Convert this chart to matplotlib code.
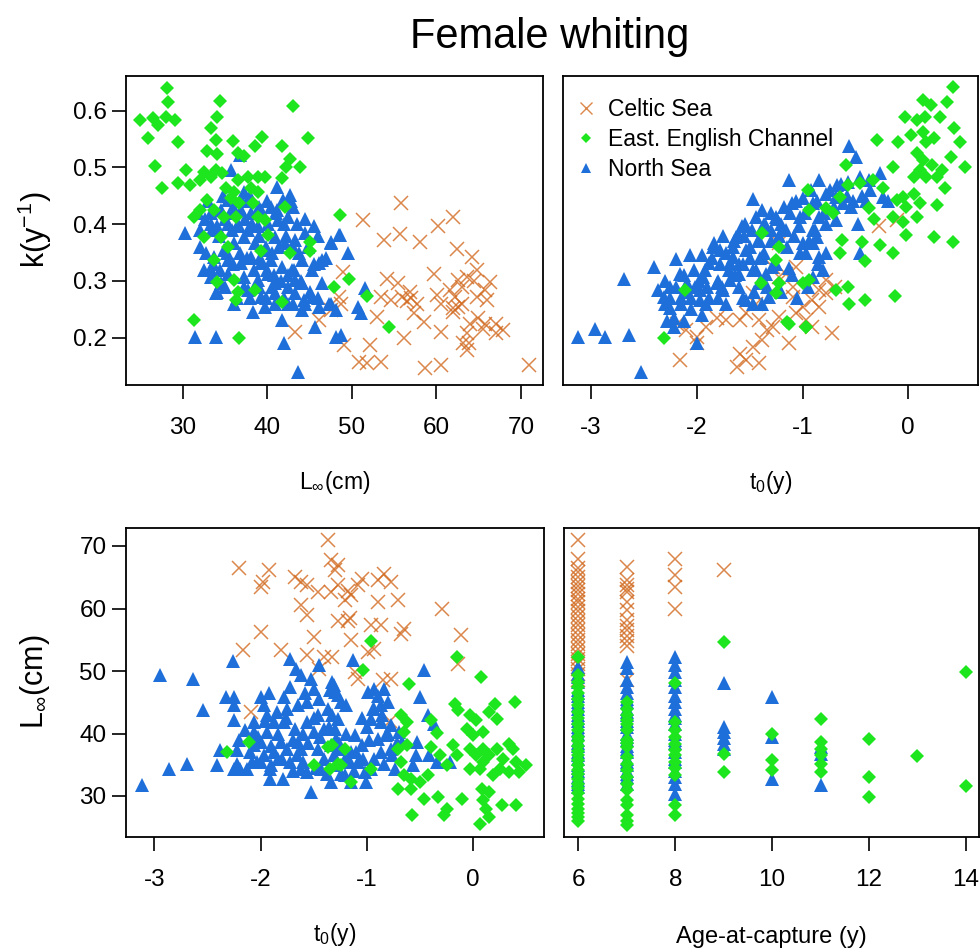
import matplotlib
matplotlib.use('Agg')
import matplotlib.pyplot as plt
from matplotlib.lines import Line2D

plt.rcParams['font.family'] = ['Liberation Sans', 'DejaVu Sans']
plt.rcParams['mathtext.fontset'] = 'custom'
plt.rcParams['mathtext.rm'] = 'Liberation Sans'
plt.rcParams['mathtext.it'] = 'Liberation Sans:italic'
plt.rcParams['mathtext.bf'] = 'Liberation Sans:bold'

# ---------------- data ----------------
series_names = ['Celtic Sea', 'East. English Channel', 'North Sea']

# Panel 1: k vs Linf
p1_cs_linf = [55.8, 51.3, 53.8, 55.7, 58.1, 60.2, 62.0, 62.4, 64.2, 64.8, 66.3, 59.7, 54.2, 55.4, 53.4,
              54.6, 55.9, 56.9, 57.7, 57.3, 58.5, 60.1, 60.5, 61.6, 62.2, 62.6, 63.0, 63.6, 62.0, 63.0,
              64.8, 65.8, 66.0, 64.9, 65.8, 67.1, 67.9, 67.1, 64.0, 63.6, 63.2, 63.6, 60.5, 56.2, 52.2,
              49.1, 50.9, 51.8, 53.4, 58.7, 60.5, 70.9, 53.0, 48.7, 48.9, 47.5, 43.3, 46.1, 48.5, 57.0,
              56.5, 62.0, 62.5, 64.5, 65.5, 63.8]
p1_cs_k = [0.438, 0.407, 0.372, 0.383, 0.369, 0.396, 0.412, 0.357, 0.343, 0.319, 0.299, 0.313, 0.304, 0.296, 0.272,
           0.266, 0.272, 0.281, 0.260, 0.243, 0.228, 0.275, 0.260, 0.284, 0.272, 0.302, 0.290, 0.307, 0.252, 0.260,
           0.272, 0.284, 0.266, 0.234, 0.225, 0.225, 0.213, 0.208, 0.225, 0.208, 0.190, 0.178, 0.210, 0.199, 0.187,
           0.187, 0.158, 0.155, 0.158, 0.146, 0.152, 0.152, 0.237, 0.260, 0.316, 0.249, 0.210, 0.231, 0.272, 0.270,
           0.265, 0.245, 0.255, 0.300, 0.215, 0.190]

p1_eec_linf = [28.1, 28.3, 34.4, 43.0, 25.0, 26.5, 27.1, 28.0, 29.1, 34.0, 25.9, 29.4, 33.3, 33.9, 36.0,
               38.5, 39.4, 41.7, 44.8, 26.7, 30.4, 27.5, 29.4, 32.9, 34.1, 36.5, 37.3, 42.7, 42.2, 43.9,
               41.7, 30.9, 32.1, 32.5, 33.3, 33.9, 34.7, 36.5, 37.7, 38.9, 39.7, 35.1, 36.1, 38.1, 38.9,
               32.9, 35.7, 36.7, 38.3, 42.1, 31.3, 32.1, 33.7, 34.9, 36.3, 38.9, 39.7, 40.1, 32.5, 34.5,
               35.3, 39.3, 45.0, 45.1, 42.7, 33.7, 34.1, 36.1, 36.5, 38.5, 36.3, 41.7, 47.9, 48.6, 31.3,
               36.7, 49.7, 51.8, 54.4]
p1_eec_k = [0.640, 0.616, 0.617, 0.608, 0.584, 0.587, 0.575, 0.589, 0.584, 0.589, 0.551, 0.545, 0.569, 0.548, 0.547,
            0.538, 0.554, 0.538, 0.551, 0.503, 0.495, 0.463, 0.473, 0.529, 0.523, 0.526, 0.520, 0.514, 0.501, 0.501,
            0.481, 0.469, 0.478, 0.492, 0.484, 0.495, 0.490, 0.478, 0.484, 0.484, 0.484, 0.463, 0.457, 0.463, 0.457,
            0.443, 0.446, 0.437, 0.437, 0.431, 0.413, 0.425, 0.425, 0.413, 0.413, 0.413, 0.407, 0.381, 0.378, 0.378,
            0.360, 0.352, 0.369, 0.352, 0.349, 0.337, 0.299, 0.302, 0.281, 0.284, 0.266, 0.263, 0.290, 0.416, 0.231,
            0.199, 0.304, 0.273, 0.219]

p1_ns_linf = [30.3, 31.4, 33.9, 43.6, 42.0, 36.8, 41.2, 42.7, 43.1, 41.1, 35.7, 37.3, 32.1, 32.5, 33.3,
              34.5, 33.9, 36.1, 38.3, 39.7, 40.9, 41.7, 45.7, 45.3, 44.3, 43.3, 42.5, 44.1, 46.5, 46.1,
              45.5, 44.5, 43.3, 42.1, 40.9, 39.7, 38.5, 37.3, 36.1, 34.9, 34.1, 33.3, 32.1, 35.3, 36.5,
              37.7, 38.9, 40.1, 41.3, 42.5, 33.3, 34.5, 35.7, 36.9, 38.1, 39.3, 40.5, 41.9, 37.7, 35.3,
              33.7, 35.3, 36.9, 38.1, 39.3, 40.5, 41.7, 42.9, 44.1, 45.3, 46.5, 47.5, 48.5, 33.3, 35.3,
              37.3, 38.9, 40.1, 40.9, 43.3, 37.7, 39.3, 40.9, 42.5, 44.1, 46.1, 47.3, 48.1, 48.6, 49.5,
              47.5, 51.5, 50.7, 51.1, 48.7, 48.1, 47.5,
              31.8, 32.6, 33.5, 34.3, 35.0, 35.8, 36.6, 37.4, 38.2, 39.0, 39.8, 40.6, 41.4, 42.2, 43.0,
              43.8, 44.8, 32.8, 33.6, 34.4, 35.2, 36.0, 36.8, 37.6, 38.4, 39.2, 40.0, 40.8, 41.6, 42.4,
              43.2, 44.0, 45.0, 46.0, 34.0, 35.0, 36.4, 37.2, 38.0, 39.0, 39.8, 40.6, 42.0, 43.0, 44.5,
              36.0, 37.0, 38.0, 39.0, 40.0, 41.0, 42.0, 43.5, 44.5, 46.0, 47.0, 45.5, 42.8, 34.8, 33.0]
p1_ns_k = [0.384, 0.202, 0.202, 0.140, 0.190, 0.522, 0.466, 0.451, 0.431, 0.425, 0.495, 0.457, 0.360, 0.319, 0.307,
           0.296, 0.278, 0.260, 0.246, 0.255, 0.260, 0.231, 0.219, 0.272, 0.266, 0.278, 0.290, 0.296, 0.296, 0.331,
           0.396, 0.384, 0.372, 0.366, 0.378, 0.354, 0.366, 0.378, 0.366, 0.354, 0.396, 0.401, 0.390, 0.401, 0.396,
           0.390, 0.396, 0.401, 0.407, 0.413, 0.419, 0.425, 0.419, 0.425, 0.419, 0.425, 0.431, 0.443, 0.440, 0.443,
           0.343, 0.337, 0.331, 0.343, 0.331, 0.337, 0.325, 0.319, 0.337, 0.319, 0.337, 0.369, 0.381, 0.319, 0.313,
           0.307, 0.301, 0.313, 0.296, 0.301, 0.284, 0.272, 0.278, 0.260, 0.249, 0.255, 0.260, 0.249, 0.381, 0.349,
           0.366, 0.287, 0.255, 0.243, 0.205, 0.202, 0.260,
           0.420, 0.410, 0.390, 0.380, 0.410, 0.390, 0.400, 0.410, 0.400, 0.380, 0.360, 0.350, 0.360, 0.380, 0.360,
           0.350, 0.360, 0.350, 0.330, 0.320, 0.350, 0.330, 0.350, 0.340, 0.320, 0.340, 0.320, 0.310, 0.300, 0.310,
           0.320, 0.300, 0.280, 0.270, 0.280, 0.290, 0.270, 0.290, 0.270, 0.290, 0.270, 0.290, 0.270, 0.260, 0.260,
           0.430, 0.440, 0.450, 0.430, 0.440, 0.420, 0.400, 0.400, 0.410, 0.380, 0.340, 0.330, 0.440, 0.450, 0.440]

# Panel 2: k vs t0
p2_cs_t0 = [-0.28, -2.16, -2.19, -2.10, -2.00, -1.91, -1.81, -1.59, -1.53, -1.44, -1.59, -1.53, -1.62, -1.41, -1.47,
            -1.38, -1.28, -1.22, -1.13, -1.09, -1.00, -0.91, -0.84, -0.78, -0.72, -0.91, -0.97, -1.06, -1.22, -1.16,
            -1.28, -1.22, -1.06, -0.78, -0.69, -0.84, -1.47, -1.72, -1.41, -1.34, -1.09, -2.00, -0.11]
p2_cs_k = [0.396, 0.161, 0.225, 0.214, 0.202, 0.219, 0.234, 0.231, 0.243, 0.260, 0.172, 0.161, 0.149, 0.155, 0.184,
           0.196, 0.219, 0.237, 0.190, 0.272, 0.255, 0.266, 0.284, 0.302, 0.208, 0.219, 0.231, 0.243, 0.307, 0.313,
           0.325, 0.366, 0.325, 0.278, 0.290, 0.255, 0.278, 0.231, 0.231, 0.214, 0.290, 0.190, 0.407]

p2_eec_t0 = [0.42, 0.14, 0.21, 0.37, -0.03, 0.08, 0.16, 0.30, 0.43, -0.30, -0.10, 0.03, 0.14, 0.17, 0.24,
             0.49, 0.40, 0.54, -0.59, -0.14, 0.08, 0.14, 0.22, 0.11, 0.05, 0.17, 0.27, 0.32, 0.35, -0.95,
             -0.57, -0.46, -0.33, -0.24, -0.11, -0.05, 0.05, 0.11, 0.27, -0.02, -0.37, -0.78, -0.65, -0.14, -0.05,
             0.08, -0.32, -0.02, 0.24, 0.42, -0.63, -0.44, -0.27, -0.14, -0.65, -0.41, -0.57, -0.41, -0.13, -0.56,
             -0.68, -0.94, -1.13, -0.97, -1.22, -1.38, -1.22, -1.00, -0.94, -0.71, -2.11, -2.31, -1.39, -1.25, -1.25,
             -1.15, -0.97]
p2_eec_k = [0.641, 0.619, 0.610, 0.616, 0.589, 0.584, 0.589, 0.589, 0.569, 0.549, 0.544, 0.557, 0.563, 0.545, 0.551,
            0.545, 0.519, 0.501, 0.504, 0.501, 0.525, 0.513, 0.504, 0.495, 0.484, 0.484, 0.484, 0.495, 0.463, 0.460,
            0.469, 0.472, 0.478, 0.463, 0.443, 0.448, 0.454, 0.437, 0.434, 0.431, 0.428, 0.428, 0.448, 0.413, 0.404,
            0.413, 0.410, 0.381, 0.378, 0.368, 0.372, 0.369, 0.363, 0.350, 0.350, 0.336, 0.290, 0.267, 0.273, 0.260,
            0.284, 0.302, 0.225, 0.219, 0.360, 0.384, 0.296, 0.296, 0.425, 0.419, 0.284, 0.199, 0.296, 0.337, 0.279,
            0.228, 0.219]

p2_ns_t0 = [-3.12, -2.96, -2.87, -2.64, -2.53, -2.69, -2.40, -2.20, -2.06, -1.95, -1.47, -2.37, -2.31, -2.25, -2.22,
            -2.22, -2.16, -2.09, -2.03, -1.97, -2.00, -1.94, -1.88, -1.84, -1.78, -1.75, -1.72, -1.69, -1.81, -1.66,
            -1.63, -1.57, -1.53, -1.47, -1.53, -1.44, -1.38, -1.35, -1.47, -1.60, -1.69, -1.97, -1.91,
            -0.56, -0.49, -1.13, -1.00, -0.84, -0.67, -0.57, -0.46, -0.37, -0.27, -1.38, -1.25, -1.10, -1.02, -0.90,
            -0.78, -0.68, -0.62, -0.52, -0.40, -0.24, -0.19, -1.35, -1.19, -1.03, -0.90, -0.84, -0.78, -0.68, -0.48,
            -1.00, -0.90, -0.86, -0.97, -0.84, -1.38, -1.29, -1.13, -1.41, -1.32, -0.90, -0.81, -1.38, -1.41, -0.46,
            -1.85, -1.75, -1.65, -1.55, -1.50, -1.60, -1.70, -1.80, -1.90, -2.10, -2.15, -2.25, -2.30, -2.05, -1.95,
            -1.80, -1.60, -1.40, -1.30, -1.20, -1.15, -1.25, -1.10, -1.20, -1.05, -0.95, -0.85, -0.78,
            -2.30, -2.20, -2.12, -2.02, -1.92, -1.86, -1.78, -1.72, -1.66, -1.60, -1.54, -1.48, -1.42, -1.36, -1.30,
            -1.24, -1.18, -1.12, -1.06, -0.98, -0.92, -0.86, -0.80, -0.74, -0.70, -0.64, -0.58, -0.54, -0.44, -0.36,
            -2.25, -2.15, -2.05, -1.98, -1.88, -1.76, -1.64, -1.56, -1.50, -1.44, -1.36, -1.30, -1.22, -1.16, -1.08,
            -1.02, -0.94, -0.88, -1.34, -1.46, -1.56, -2.12, -2.28]
p2_ns_k = [0.202, 0.216, 0.202, 0.205, 0.140, 0.304, 0.325, 0.338, 0.346, 0.346, 0.445, 0.284, 0.272, 0.252, 0.234,
           0.219, 0.313, 0.296, 0.319, 0.266, 0.190, 0.307, 0.331, 0.366, 0.354, 0.284, 0.260, 0.301, 0.296, 0.343,
           0.378, 0.396, 0.354, 0.319, 0.266, 0.413, 0.390, 0.313, 0.260, 0.313, 0.331, 0.284, 0.260,
           0.537, 0.518, 0.478, 0.446, 0.478, 0.469, 0.475, 0.484, 0.478, 0.490, 0.425, 0.413, 0.437, 0.413, 0.437,
           0.454, 0.448, 0.437, 0.440, 0.440, 0.448, 0.440, 0.396, 0.390, 0.396, 0.390, 0.413, 0.401, 0.407, 0.401,
           0.366, 0.366, 0.378, 0.349, 0.343, 0.343, 0.325, 0.322, 0.296, 0.272, 0.307, 0.319, 0.260, 0.372, 0.350,
           0.360, 0.380, 0.370, 0.380, 0.360, 0.330, 0.320, 0.300, 0.290, 0.280, 0.270, 0.290, 0.260, 0.250, 0.240,
           0.270, 0.290, 0.340, 0.370, 0.400, 0.360, 0.330, 0.310, 0.280, 0.270, 0.290, 0.330, 0.350,
           0.300, 0.290, 0.310, 0.290, 0.320, 0.340, 0.330, 0.350, 0.360, 0.380, 0.400, 0.390, 0.370, 0.400, 0.420,
           0.410, 0.430, 0.420, 0.440, 0.420, 0.460, 0.440, 0.420, 0.460, 0.430, 0.470, 0.450, 0.430, 0.450, 0.460,
           0.270, 0.260, 0.270, 0.300, 0.270, 0.290, 0.310, 0.330, 0.340, 0.320, 0.350, 0.390, 0.380, 0.390, 0.380,
           0.350, 0.370, 0.390, 0.290, 0.280, 0.270, 0.230, 0.230]

# Panel 3: Linf vs t0
p3_cs_t0 = [-2.20, -1.98, -2.00, -1.92, -1.68, -1.62, -1.56, -1.62, -1.56, -1.50, -2.00, -2.17, -1.81, -1.56, -1.40,
            -1.45, -1.37, -1.34, -1.27, -1.46, -1.34, -1.27, -2.09, -1.30, -1.21, -1.18, -1.15, -1.27, -1.18, -1.05,
            -1.08, -0.90, -0.84, -0.77, -0.71, -0.90, -0.96, -0.87, -0.93, -0.99, -1.11, -1.08, -0.77, -0.85, -0.68,
            -0.65, -1.15, -1.16, -0.29, -0.12, -0.14, -1.33, -0.78]
p3_cs_linf = [66.5, 64.3, 63.5, 66.2, 65.1, 64.3, 63.7, 60.6, 59.0, 55.5, 56.3, 53.4, 53.4, 52.6, 52.3,
              50.4, 71.0, 67.8, 67.0, 62.7, 62.7, 63.8, 43.5, 66.2, 61.4, 62.8, 62.1, 58.0, 58.0, 64.8,
              63.7, 64.5, 65.6, 64.3, 61.3, 61.0, 57.3, 57.3, 53.6, 53.0, 49.9, 48.8, 48.8, 48.6, 55.9,
              56.7, 55.0, 58.5, 60.0, 55.8, 51.2, 52.2, 42.0]

p3_eec_t0 = [-2.32, -2.11, -1.50, -1.37, -1.35, -1.27, -0.96, -1.04, -0.60, -0.15, 0.07, 0.39, -0.17, -0.14, -0.03,
             0.03, 0.20, 0.15, 0.22, -0.68, -0.62, -0.40, -0.34, -0.06, 0.00, 0.09, 0.34, 0.37, -0.40, -0.19,
             -0.15, -0.03, 0.03, 0.09, 0.15, 0.22, 0.28, 0.40, 0.50, 0.43, 0.34, 0.25, 0.19, 0.06, -0.03,
             0.09, -0.31, -0.25, -0.43, -0.50, -0.59, -0.65, -0.71, -0.59, -0.68, -0.71, -0.62, -0.65, -0.46, -0.33,
             -0.11, -0.25, -0.28, -0.58, 0.09, 0.12, 0.15, 0.06, 0.27, 0.40, 0.08, 0.15, -1.21, -1.24, -1.15,
             -0.96, -1.33]
p3_eec_linf = [37.0, 38.7, 35.0, 37.9, 34.4, 35.2, 54.8, 50.2, 47.9, 52.3, 49.0, 45.1, 44.8, 43.8, 43.0,
               42.2, 44.8, 43.5, 42.4, 43.0, 41.9, 42.2, 40.1, 40.8, 39.8, 40.3, 38.4, 37.6, 37.9, 38.2,
               36.6, 37.6, 36.6, 37.6, 36.6, 37.6, 36.0, 35.5, 35.0, 33.9, 33.9, 34.4, 33.4, 34.4, 34.4,
               35.5, 36.6, 35.0, 33.4, 32.3, 32.8, 33.4, 31.2, 31.2, 35.5, 37.6, 38.2, 40.3, 29.6, 29.9,
               29.6, 28.0, 27.0, 27.0, 29.4, 28.0, 26.7, 25.6, 28.6, 28.6, 31.2, 30.7, 37.6, 35.0, 32.3,
               34.4, 38.2]

p3_ns_t0 = [-3.12, -2.95, -2.64, -2.54, -2.86, -2.69, -2.41, -2.38, -2.26, -2.33, -2.25, -2.25, -2.25, -2.22, -2.25,
            -2.19, -2.13, -2.22, -2.08, -2.06, -2.06, -2.06, -2.00, -1.97, -1.94, -1.94, -2.00, -1.97, -2.03, -1.91,
            -1.91, -1.79, -1.87, -1.81, -1.78, -1.87, -1.78, -1.75, -1.68, -1.62, -1.72, -1.62, -1.56, -1.53, -1.72,
            -1.67, -1.62, -1.53, -1.45, -1.50, -1.56, -1.56, -1.46, -1.50, -1.40, -1.37, -1.46, -1.34, -1.43, -1.31,
            -1.31, -1.27, -1.27, -1.29, -1.34, -1.75, -1.84, -1.65,
            -1.13, -1.33, -1.30, -1.24, -1.33, -1.30, -1.27, -1.21, -1.15, -1.08, -1.02, -1.21, -1.15, -1.01, -1.05,
            -1.11, -0.99, -0.93, -0.84, -0.80, -0.87, -0.93, -0.96, -0.87, -0.77, -0.82, -0.90, -0.77, -0.87, -0.93,
            -0.84, -0.74, -0.96, -0.70, -0.67, -0.53, -0.54, -0.46, -0.50, -0.43, -0.37, -0.42, -0.34, -0.22, -0.57,
            -2.15, -2.10, -2.02, -1.96, -1.90, -1.84, -1.76, -1.70, -1.66, -1.60, -1.55, -1.50, -1.44, -1.40, -1.36,
            -1.30, -1.26, -1.20, -1.16, -1.10, -1.04, -0.98, -0.94, -0.90, -0.86, -0.80, -0.76, -0.72, -1.90, -1.80,
            -1.70, -1.60, -1.48, -1.38, -1.24, -1.12, -2.20, -2.00, -1.85, -1.65, -1.45, -1.35, -1.20, -1.05, -1.00,
            -1.58, -1.72, -1.92]
p3_ns_linf = [31.8, 49.3, 48.7, 43.8, 34.3, 35.2, 35.0, 37.4, 51.6, 45.9, 45.9, 44.6, 42.2, 37.4, 34.4,
              34.4, 34.4, 35.2, 35.5, 38.2, 41.9, 40.3, 45.9, 44.6, 43.0, 40.3, 38.7, 36.6, 35.5, 34.4,
              32.8, 32.8, 37.1, 38.7, 41.9, 41.9, 45.9, 44.0, 40.8, 37.6, 35.5, 34.4, 33.9, 30.7, 52.0,
              50.4, 49.4, 48.8, 51.0, 47.2, 45.1, 41.9, 43.0, 40.3, 40.8, 44.0, 37.6, 38.2, 34.4, 36.6,
              47.8, 46.2, 42.4, 39.2, 32.3, 37.6, 36.0, 38.7,
              51.8, 48.3, 46.7, 45.1, 43.0, 40.8, 37.6, 36.0, 37.1, 35.5, 33.9, 33.4, 32.3, 32.3, 38.2,
              39.8, 46.7, 47.2, 47.2, 45.1, 44.6, 44.0, 42.4, 41.9, 41.4, 39.8, 39.2, 37.6, 37.1, 36.0,
              35.2, 34.4, 34.4, 40.3, 38.7, 38.7, 36.6, 50.2, 45.9, 43.0, 41.6, 36.6, 35.5, 35.5, 35.0,
              40.5, 37.0, 39.5, 42.0, 38.0, 40.0, 42.5, 39.0, 36.5, 40.0, 38.5, 42.5, 39.5, 36.0, 41.0,
              35.0, 38.5, 40.0, 35.5, 37.0, 36.0, 39.0, 44.0, 46.0, 43.0, 40.0, 36.5, 38.5, 35.0, 36.0,
              34.0, 35.5, 34.5, 33.5, 33.5, 34.0, 39.0, 35.5, 43.5, 44.5, 45.5, 47.0, 44.5, 42.5, 41.0,
              46.5, 47.5, 46.5]

# Panel 4: Linf vs age-at-capture
p4_cs_age = [6] * 27 + [7] * 14 + [8] * 4 + [9]
p4_cs_linf = [70.9, 67.9, 66.5, 65.8, 65.0, 64.3, 63.6, 63.0, 62.4, 61.6, 61.0, 60.3, 59.6, 58.8, 58.0,
              57.3, 56.5, 55.8, 55.0, 54.3, 53.6, 52.8, 52.0, 51.2, 50.4, 49.5, 48.5,
              66.7, 64.5, 63.8, 63.2, 62.6, 61.0, 59.8, 58.2, 57.2, 56.5, 55.6, 54.8, 54.0, 48.6,
              68.0, 65.4, 63.4, 60.0,
              66.1]

p4_eec_age = [6] * 30 + [7] * 20 + [8] * 12 + [9] * 3 + [10] * 3 + [11] * 6 + [12] * 3 + [13] + [14] * 2
p4_eec_linf = [52.3, 49.3, 45.5, 44.5, 43.5, 42.5, 41.5, 40.5, 39.5, 38.8, 38.0, 37.2, 36.5, 35.8, 35.0,
               34.2, 33.5, 32.8, 32.0, 30.5, 29.5, 28.8, 28.0, 27.3, 26.7, 46.5, 47.5, 48.3, 31.3, 26.0,
               45.1, 43.0, 42.2, 40.6, 39.0, 37.9, 36.3, 35.2, 34.2, 33.1, 31.0, 29.4, 27.0, 25.4, 44.0,
               41.5, 38.5, 32.0, 28.5, 26.0,
               48.1, 41.9, 40.6, 39.5, 38.4, 37.4, 36.5, 35.5, 34.5, 33.4, 28.6, 27.0,
               54.7, 36.7, 33.9,
               40.0, 35.7, 34.1,
               42.4, 38.7, 37.6, 36.6, 35.2, 33.9,
               39.2, 33.0, 29.9,
               36.4,
               49.9, 31.6]

p4_ns_age = [6] * 29 + [7] * 26 + [8] * 21 + [9] * 6 + [10] * 3 + [11] * 3
p4_ns_linf = [50.7, 49.5, 48.2, 47.0, 46.0, 45.0, 44.0, 43.0, 42.0, 41.0, 40.0, 39.0, 38.0, 37.0, 36.0,
              35.0, 34.0, 33.0, 32.0, 31.5, 49.0, 46.5, 44.5, 42.5, 40.5, 38.5, 36.5, 34.5, 32.5,
              51.5, 50.5, 48.5, 46.5, 45.0, 44.0, 43.0, 42.0, 41.0, 40.0, 39.0, 38.0, 37.0, 36.0, 35.0,
              34.0, 33.0, 32.0, 47.5, 45.5, 43.5, 41.5, 39.5, 37.5, 35.5, 33.5,
              52.3, 51.0, 49.8, 48.5, 47.5, 46.0, 45.0, 44.0, 43.0, 41.5, 40.0, 38.5, 37.0, 35.5, 34.0,
              33.0, 32.0, 30.4, 42.5, 39.0, 36.0,
              48.1, 41.1, 40.2, 39.3, 38.4, 37.6,
              45.9, 39.5, 32.8,
              37.9, 36.8, 31.8]

# ---------------- styling ----------------
CS_COL = '#D2691E'
EEC_COL = '#1EE61E'
NS_COL = '#1E6FD9'

W, H = 980, 950
fig = plt.figure(figsize=(W / 100, H / 100), dpi=100)


def add_ax(l, t, r, b):
    return fig.add_axes([l / W, 1 - b / H, (r - l) / W, (b - t) / H])


def draw(ax, cs, ns, eec):
    ax.plot(cs[0], cs[1], ls='none', marker='x', ms=10, mew=1.1, color=CS_COL, alpha=0.8)
    ax.plot(ns[0], ns[1], ls='none', marker='^', ms=9.5, mew=0, color=NS_COL)
    ax.plot(eec[0], eec[1], ls='none', marker='D', ms=7.2, mew=0, color=EEC_COL)
    for s in ax.spines.values():
        s.set_linewidth(1.3)
    ax.tick_params(axis='both', direction='out', length=10, width=1.2, labelsize=17.5, color='black')
    ax.tick_params(axis='x', pad=13)
    ax.tick_params(axis='y', pad=4)


ax1 = add_ax(126, 76, 543, 385)
draw(ax1, (p1_cs_linf, p1_cs_k), (p1_ns_linf, p1_ns_k), (p1_eec_linf, p1_eec_k))
ax1.set_xlim(23.3, 72.6)
ax1.set_ylim(0.1167, 0.6611)
ax1.set_xticks([30, 40, 50, 60, 70])
ax1.set_yticks([0.2, 0.3, 0.4, 0.5, 0.6])
ax1.set_yticklabels(['0.2', '0.3', '0.4', '0.5', '0.6'])

ax2 = add_ax(563, 76, 978, 385)
draw(ax2, (p2_cs_t0, p2_cs_k), (p2_ns_t0, p2_ns_k), (p2_eec_t0, p2_eec_k))
ax2.set_xlim(-3.265, 0.659)
ax2.set_ylim(0.1167, 0.6611)
ax2.set_xticks([-3, -2, -1, 0])
ax2.set_xticklabels(['-3', '-2', '-1', '0'])
ax2.tick_params(axis='y', left=False, labelleft=False)

ax3 = add_ax(126, 528, 544, 837)
draw(ax3, (p3_cs_t0, p3_cs_linf), (p3_ns_t0, p3_ns_linf), (p3_eec_t0, p3_eec_linf))
ax3.set_xlim(-3.266, 0.665)
ax3.set_ylim(23.44, 72.88)
ax3.set_xticks([-3, -2, -1, 0])
ax3.set_xticklabels(['-3', '-2', '-1', '0'])
ax3.set_yticks([30, 40, 50, 60, 70])

ax4 = add_ax(564, 528, 979, 837)
draw(ax4, (p4_cs_age, p4_cs_linf), (p4_ns_age, p4_ns_linf), (p4_eec_age, p4_eec_linf))
ax4.set_xlim(5.705, 14.27)
ax4.set_ylim(23.44, 72.88)
ax4.set_xticks([6, 8, 10, 12, 14])
ax4.tick_params(axis='y', left=False, labelleft=False)

# legend
handles = [
    Line2D([], [], ls='none', marker='x', ms=9, mew=1.0, color=CS_COL, alpha=0.8),
    Line2D([], [], ls='none', marker='D', ms=5, mew=0, color=EEC_COL),
    Line2D([], [], ls='none', marker='^', ms=7.5, mew=0, color=NS_COL),
]
ax2.legend(handles, series_names, loc='upper left', bbox_to_anchor=(0.0, 0.965), frameon=False,
           fontsize=16.5, handlelength=1.0, handletextpad=0.45, labelspacing=0.3, borderpad=0.3,
           borderaxespad=0.2)

# labels
fig.text(550 / W, 1 - 37 / H, 'Female whiting', ha='center', va='center', fontsize=30)
fig.text(334.5 / W, 1 - 482 / H, r'L$_{\infty}$(cm)', ha='center', va='center', fontsize=16.5)
fig.text(770.5 / W, 1 - 482 / H, r't$_0$(y)', ha='center', va='center', fontsize=16.5)
fig.text(335 / W, 1 - 935 / H, r't$_0$(y)', ha='center', va='center', fontsize=16.5)
fig.text(771.5 / W, 1 - 937 / H, 'Age-at-capture (y)', ha='center', va='center', fontsize=17)
fig.text(35 / W, 1 - 230 / H, r'k(y$^{-1}$)', ha='center', va='center', rotation=90, fontsize=22)
fig.text(35 / W, 1 - 682 / H, r'L$_{\infty}$(cm)', ha='center', va='center', rotation=90, fontsize=22)

fig.savefig('out.png', dpi=100)
